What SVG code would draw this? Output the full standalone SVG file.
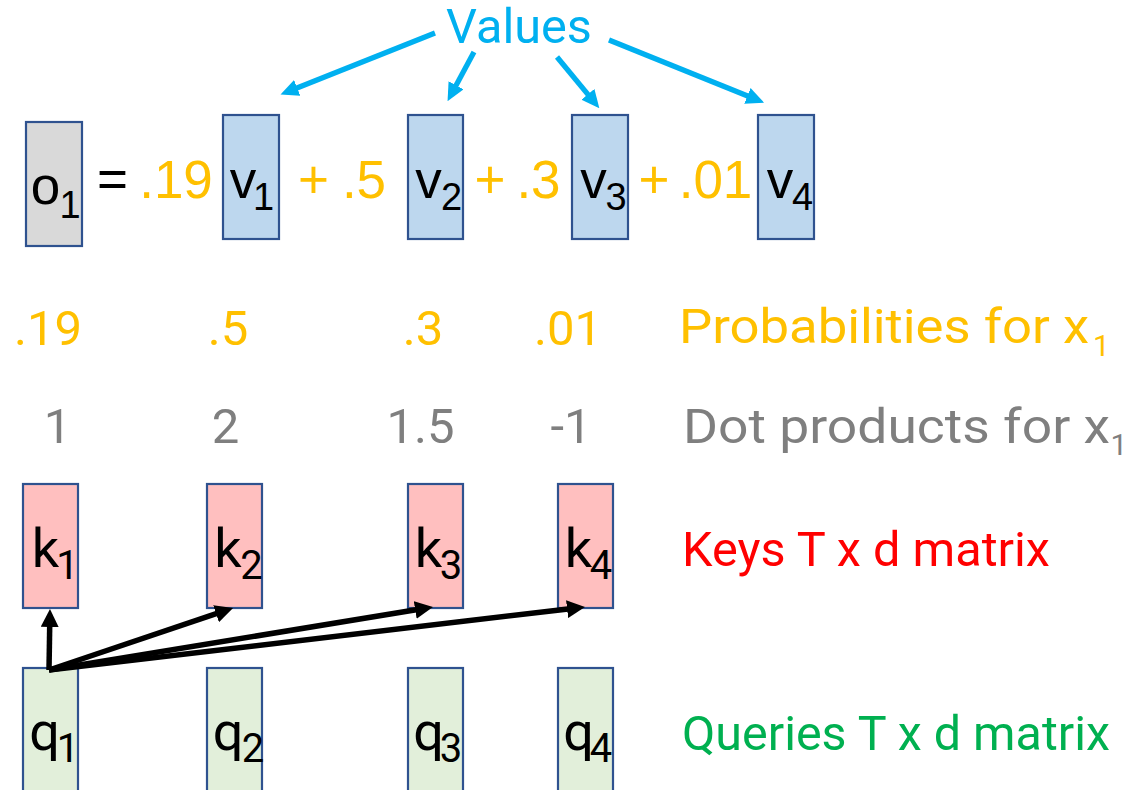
<svg xmlns="http://www.w3.org/2000/svg" width="1131" height="790" viewBox="0 0 1131 790">
<style>
  .box{stroke:#2f528f;stroke-width:2.2}
  .o{fill:#d9d9d9}
  .v{fill:#bdd7ee}
  .k{fill:#ffbfbf}
  .q{fill:#e2efda}
  .eq{font-family:"Liberation Sans",Arial,sans-serif;font-size:53px;text-anchor:middle}
  .eqs{font-family:"Liberation Sans",Arial,sans-serif;font-size:38px;text-anchor:middle}
  .rb{font-family:Roboto,"Liberation Sans",sans-serif}
  .lbl{font-size:54px;text-anchor:middle;fill:#000}
  .sub{font-size:40px;text-anchor:middle;fill:#000}
  .num{font-size:49px;text-anchor:middle}
  .lab{font-size:49px}
  .org{fill:#ffc000}
  .gry{fill:#7f7f7f}
  .blk{fill:#000}
  .blue-line{stroke:#00b0f0;stroke-width:5.3;fill:none}
  .blk-line{stroke:#000;stroke-width:5.5;fill:none}
</style>
<defs>
  <marker id="ab" markerUnits="userSpaceOnUse" markerWidth="18" markerHeight="17" viewBox="0 0 18 17" refX="1" refY="8.5" orient="auto">
    <path d="M0,0 L18,8.5 L0,17 z" fill="#00b0f0"/>
  </marker>
  <marker id="ak" markerUnits="userSpaceOnUse" markerWidth="18" markerHeight="18" viewBox="0 0 18 18" refX="1" refY="9" orient="auto">
    <path d="M0,0 L18,9 L0,18 z" fill="#000"/>
  </marker>
</defs>

<g id="values-label">
  <text class="rb" x="519" y="43" font-size="49" text-anchor="middle" fill="#00b0f0" textLength="146" lengthAdjust="spacingAndGlyphs">Values</text>
</g>

<g id="o1">
  <rect class="box o" x="26" y="122" width="56" height="124"/>
  <text class="eq blk" x="45.5" y="204">o</text>
  <text class="eqs blk" x="70" y="218" font-size="32">1</text>
</g>
<g id="equation-terms">
  <text class="eq blk" x="112.5" y="197">=</text>
  <text class="eq org" x="176" y="198">.19</text>
  <text class="eq org" x="313.5" y="198">+</text>
  <text class="eq org" x="364" y="198">.5</text>
  <text class="eq org" x="490" y="198">+</text>
  <text class="eq org" x="538.5" y="198">.3</text>
  <text class="eq org" x="654" y="198">+</text>
  <text class="eq org" x="715.5" y="198">.01</text>
</g>
<g id="v1">
  <rect class="box v" x="223" y="115" width="56" height="124"/>
  <text class="eq blk" x="243" y="198">v</text>
  <text class="eqs blk" x="263.5" y="210">1</text>
</g>
<g id="v2">
  <rect class="box v" x="408" y="115" width="55" height="124"/>
  <text class="eq blk" x="428.5" y="198">v</text>
  <text class="eqs blk" x="451.5" y="210">2</text>
</g>
<g id="v3">
  <rect class="box v" x="572" y="115" width="56" height="124"/>
  <text class="eq blk" x="593.5" y="198">v</text>
  <text class="eqs blk" x="616" y="210">3</text>
</g>
<g id="v4">
  <rect class="box v" x="758" y="115" width="56" height="124"/>
  <text class="eq blk" x="780" y="198">v</text>
  <text class="eqs blk" x="802.5" y="210">4</text>
</g>

<g id="probabilities">
  <text class="rb num org" x="48" y="345">.19</text>
  <text class="rb num org" x="228" y="345">.5</text>
  <text class="rb num org" x="423" y="345">.3</text>
  <text class="rb num org" x="568" y="345">.01</text>
  <text class="rb lab org" x="679" y="343" textLength="410" lengthAdjust="spacingAndGlyphs">Probabilities for x</text>
  <text class="rb org" x="1101.5" y="356" font-size="30" text-anchor="middle">1</text>
</g>
<g id="dot-products">
  <text class="rb num gry" x="57.5" y="443">1</text>
  <text class="rb num gry" x="225.5" y="443">2</text>
  <text class="rb num gry" x="420.5" y="443">1.5</text>
  <text class="rb num gry" x="571" y="443">-1</text>
  <text class="rb lab gry" x="683" y="443" textLength="427" lengthAdjust="spacingAndGlyphs">Dot products for x</text>
  <text class="rb gry" x="1119" y="455" font-size="30" text-anchor="middle">1</text>
</g>

<g id="k1">
  <rect class="box k" x="23" y="484" width="55" height="124"/>
  <text class="rb lbl" x="45.5" y="567">k</text>
  <text class="rb sub" x="67.5" y="579">1</text>
</g>
<g id="k2">
  <rect class="box k" x="207" y="484" width="55" height="124"/>
  <text class="rb lbl" x="228" y="567">k</text>
  <text class="rb sub" x="251.5" y="579">2</text>
</g>
<g id="k3">
  <rect class="box k" x="408" y="484" width="55" height="124"/>
  <text class="rb lbl" x="428.5" y="567">k</text>
  <text class="rb sub" x="451" y="579">3</text>
</g>
<g id="k4">
  <rect class="box k" x="558" y="484" width="55" height="124"/>
  <text class="rb lbl" x="578.5" y="567">k</text>
  <text class="rb sub" x="601" y="579">4</text>
</g>
<g id="keys-label">
  <text class="rb lab" x="682" y="566" fill="#ff0000" textLength="368" lengthAdjust="spacingAndGlyphs">Keys T x d matrix</text>
</g>

<g id="q1">
  <rect class="box q" x="23" y="668" width="55" height="140"/>
  <text class="rb lbl" x="44.5" y="750">q</text>
  <text class="rb sub" x="68" y="762">1</text>
</g>
<g id="q2">
  <rect class="box q" x="207" y="668" width="55" height="140"/>
  <text class="rb lbl" x="228" y="750">q</text>
  <text class="rb sub" x="253" y="762">2</text>
</g>
<g id="q3">
  <rect class="box q" x="408" y="668" width="55" height="140"/>
  <text class="rb lbl" x="428.5" y="750">q</text>
  <text class="rb sub" x="451" y="762">3</text>
</g>
<g id="q4">
  <rect class="box q" x="558" y="668" width="55" height="140"/>
  <text class="rb lbl" x="578.5" y="750">q</text>
  <text class="rb sub" x="601" y="762">4</text>
</g>
<g id="queries-label">
  <text class="rb lab" x="682" y="750" fill="#00b050" textLength="428" lengthAdjust="spacingAndGlyphs">Queries T x d matrix</text>
</g>

<g id="connectors">
  <path class="blue-line" d="M435,33 L296.3,88.3" marker-end="url(#ab)"/>
  <path class="blue-line" d="M474,52 L455.6,86.2" marker-end="url(#ab)"/>
  <path class="blue-line" d="M557,57 L588.5,95.1" marker-end="url(#ab)"/>
  <path class="blue-line" d="M609,40 L748.3,96.3" marker-end="url(#ab)"/>
  <path class="blk-line" d="M49,670 L49.7,626" marker-end="url(#ak)"/>
  <path class="blk-line" d="M49,670 L217,613.4" marker-end="url(#ak)"/>
  <path class="blk-line" d="M49,670 L416.2,609.8" marker-end="url(#ak)"/>
  <path class="blk-line" d="M49,670 L568.1,609" marker-end="url(#ak)"/>
</g>
</svg>
